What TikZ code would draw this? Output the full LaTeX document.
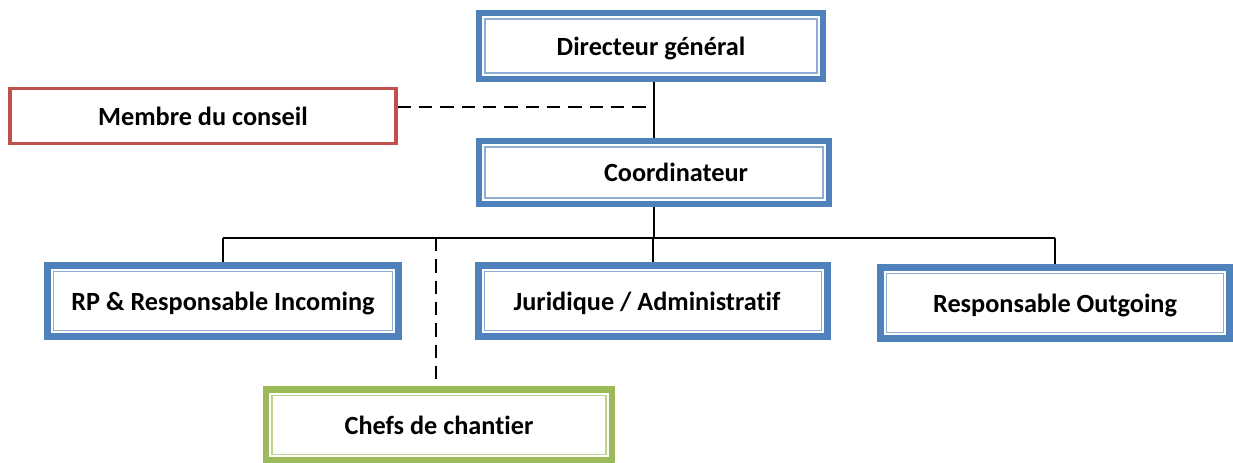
\documentclass[tikz,border=0pt]{standalone}
\usepackage{fontspec}
\setmainfont{Carlito}[Ligatures=NoCommon]
\definecolor{offblue}{RGB}{79,129,189}
\definecolor{offred}{RGB}{192,80,77}
\definecolor{offgreen}{RGB}{155,187,89}
\tikzset{
  dblbox/.style={draw=#1, line width=4.8pt, fill=white, inner sep=0pt,
    text height=14pt, text depth=0pt,
    font=\bfseries\fontsize{19.7}{24}\selectfont,
    path picture={\draw[#1!65, line width=1pt]
      ([shift={(4.6pt,-4.6pt)}]path picture bounding box.north west) rectangle
      ([shift={(-4.6pt,4.6pt)}]path picture bounding box.south east);}},
  linebox/.style={draw=#1, line width=2.4pt, fill=white, inner sep=0pt,
    text height=14pt, text depth=0pt,
    font=\bfseries\fontsize{19.7}{24}\selectfont},
  link/.style={line width=2pt},
  dlink/.style={line width=2pt, dash pattern={on 10pt off 6pt}},
}
\begin{document}
\begin{tikzpicture}[x=0.75pt,y=0.75pt,yscale=-1,xscale=1]
\useasboundingbox (0,0) rectangle (1233,463);

% Boxes
\node [dblbox=offblue, minimum width=258pt, minimum height=49.5pt] (dir) at (651,46) {Directeur général};
\node [linebox=offred, minimum width=289.5pt, minimum height=41.25pt] (membre) at (203,116) {Membre du conseil};
\node [dblbox=offblue, minimum width=262.5pt, minimum height=47.25pt] (coord) at (654,172.5) {\hspace*{33pt}Coordinateur};
\node [dblbox=offblue, minimum width=263.25pt, minimum height=53.25pt] (rp) at (223,301) {RP \& Responsable Incoming};
\node [dblbox=offblue, minimum width=261.75pt, minimum height=53.25pt] (jur) at (653,301) {Juridique / Administratif\hspace*{9pt}};
\node [dblbox=offblue, minimum width=261.75pt, minimum height=53.25pt] (out) at (1055,303) {Responsable Outgoing};
\node [dblbox=offgreen, minimum width=259.5pt, minimum height=53.25pt] (chef) at (439,425) {Chefs de chantier};

% Connectors
\coordinate (dj) at (654,107);
\coordinate (bus) at (654,238);
\coordinate (cj) at (436,238);
\draw [link] (coord.north |- dir.south) -- (coord.north);
\draw [dlink] (membre.east |- dj) -- (dj);
\draw [link] (coord.south) -- (bus);
\draw [link] (rp.north |- bus) -- (out.north |- bus);
\draw [link] (rp.north |- bus) -- (rp.north);
\draw [link] (jur.north |- bus) -- (jur.north);
\draw [link] (out.north |- bus) -- (out.north);
\draw [dlink] (cj) -- (cj |- chef.north);
\end{tikzpicture}
\end{document}
